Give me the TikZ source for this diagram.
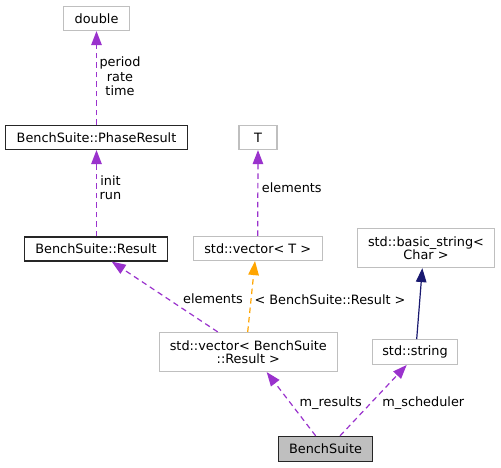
\documentclass[tikz,border=0pt]{standalone}
\usepackage{fontspec}
\setmainfont{DejaVu Sans}
\usetikzlibrary{arrows.meta}
\definecolor{edgepurple}{HTML}{9A32CD}
\definecolor{edgeorange}{HTML}{FFA500}
\definecolor{edgenavy}{HTML}{191970}
\definecolor{boxgray}{HTML}{BFBFBF}
\begin{document}
\begin{tikzpicture}[x=1pt,y=-1pt,
  every node/.style={font=\fontsize{12.85}{13.4}\selectfont, inner sep=0pt, align=center},
  cls/.style={draw=boxgray, line width=1.2pt, fill=white},
  doc/.style={draw=black!85, line width=1.2pt, fill=white},
  mainbox/.style={draw=black!85, line width=1.2pt, fill=boxgray},
  lbl/.style={font=\fontsize{12.85}{14.5}\selectfont},
  tipstyle/.style={-{Triangle[length=14pt,width=10.5pt]}},
  useedge/.style={draw=edgepurple, line width=1.2pt, dash pattern=on 5.5pt off 4pt, tipstyle},
  tmpledge/.style={draw=edgeorange, line width=1.2pt, dash pattern=on 5.5pt off 4pt, tipstyle},
  inhedge/.style={draw=edgenavy, line width=1.2pt, tipstyle}
]
\useasboundingbox (0,0) rectangle (501,468);
\fill[white] (0,0) rectangle (501,468);

\node[cls, minimum width=66pt, minimum height=24pt] (double) at (96.5,18.5) {double};
\node[doc, minimum width=182pt, minimum height=24pt] (phase) at (96.5,137.5) {BenchSuite::PhaseResult};
\node[doc, minimum width=143pt, minimum height=24pt] (result) at (96,249) {BenchSuite::Result};
\node[cls, minimum width=38pt, minimum height=24pt] (T) at (258,137.5) {T};
\node[cls, minimum width=129pt, minimum height=24pt] (vecT) at (257.7,248.5) {std::vector< T >};
\node[cls, minimum width=137pt, minimum height=39pt] (bstr) at (426,248) {std::basic\_string<\\Char >};
\node[cls, minimum width=177.7pt, minimum height=39pt] (vres) at (248.3,352) {std::vector< BenchSuite\\::Result >};
\node[cls, minimum width=85.7pt, minimum height=24.7pt] (str) at (415,352) {std::string};
\node[mainbox, minimum width=93.4pt, minimum height=25pt] (bench) at (325.5,449) {BenchSuite};

\draw[useedge] (phase.north) -- (double.south);
\draw[useedge] ([xshift=0.5pt]result.north) -- (phase.south);
\draw[useedge] (vecT.north) -- (T.south);
\draw[useedge] ([xshift=-30.6pt]vres.north) -- ([xshift=15.7pt]result.south);
\draw[tmpledge] ([xshift=-0.6pt]vres.north) -- ([xshift=-2.7pt]vecT.south);
\draw[inhedge] ([xshift=1.7pt]str.north) -- ([xshift=-3.7pt]bstr.south);
\draw[useedge] ([xshift=-9.8pt]bench.north) -- ([xshift=18.4pt]vres.south);
\draw[useedge] ([xshift=14.5pt]bench.north) -- ([xshift=-8.3pt]str.south);

\node[lbl] (l1) at (120,76.7) {period\\rate\\time};
\node[lbl] (l2) at (110.5,187.8) {init\\run};
\node (l3) at (291.8,188) {elements};
\node (l4) at (213,299) {elements};
\node (l5) at (330,299.3) {< BenchSuite::Result >};
\node (l6) at (330.7,403.3) {m\_results};
\node (l7) at (423.3,403.3) {m\_scheduler};
\end{tikzpicture}
\end{document}
